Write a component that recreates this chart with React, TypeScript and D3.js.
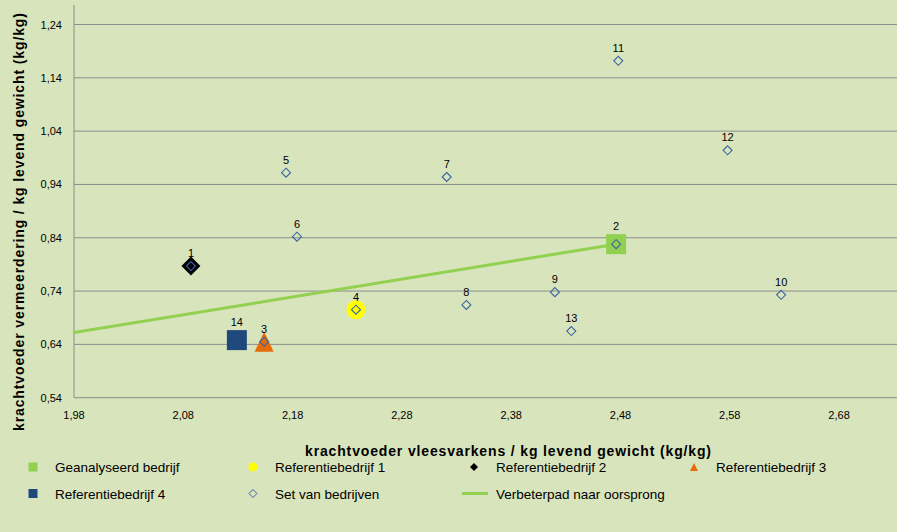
import React from "react";
import * as d3 from "d3";

// ---- data ----
const setIds = ["1", "2", "3", "4", "5", "6", "7", "8", "9", "10", "11", "12", "13", "14"];
const setX = [2.087, 2.476, 2.154, 2.238, 2.174, 2.184, 2.321, 2.339, 2.42, 2.627, 2.478, 2.578, 2.435, 2.129];
const setY = [0.787, 0.828, 0.645, 0.705, 0.962, 0.842, 0.954, 0.714, 0.738, 0.733, 1.172, 1.004, 0.665, 0.648];

const analysedIdx = 1; // Geanalyseerd bedrijf
const ref1Idx = 3; // Referentiebedrijf 1
const ref2Idx = 0; // Referentiebedrijf 2
const ref3Idx = 2; // Referentiebedrijf 3
const ref4Idx = 13; // Referentiebedrijf 4

const pathX = [0, 2.476];
const pathY = [0, 0.828];

const xTicks = [1.98, 2.08, 2.18, 2.28, 2.38, 2.48, 2.58, 2.68];
const yTicks = [0.54, 0.64, 0.74, 0.84, 0.94, 1.04, 1.14, 1.24];

const legendLabels = [
  "Geanalyseerd bedrijf",
  "Referentiebedrijf 1",
  "Referentiebedrijf 2",
  "Referentiebedrijf 3",
  "Referentiebedrijf 4",
  "Set van bedrijven",
  "Verbeterpad naar oorsprong",
];

const xTitle = "krachtvoeder vleesvarkens / kg levend gewicht (kg/kg)";
const yTitle = "krachtvoeder vermeerdering / kg levend gewicht (kg/kg)";

// ---- style ----
const W = 897;
const H = 532;
const BG = "#D8E4BC";
const GRID = "#8C8C8C";
const C_GREEN = "#92D050";
const C_YELLOW = "#FFFF00";
const C_BLACK = "#000000";
const C_ORANGE = "#E46C0A";
const C_BLUE = "#1F497D";
const C_DIAMOND = "#3B64A0";
const FONT = "'Liberation Sans', Arial, sans-serif";

const fmt = (v: number) => v.toFixed(2).replace(".", ",");

function diamondPath(w: number) {
  const h = w / 2;
  const p = d3.path();
  p.moveTo(0, -h);
  p.lineTo(h, 0);
  p.lineTo(0, h);
  p.lineTo(-h, 0);
  p.closePath();
  return p.toString();
}
function trianglePath(w: number, h: number) {
  const p = d3.path();
  p.moveTo(0, -h / 2);
  p.lineTo(w / 2, h / 2);
  p.lineTo(-w / 2, h / 2);
  p.closePath();
  return p.toString();
}

export default function App() {
  const left = 74;
  const right = 897;
  const top = 5;
  const bottom = 397.7;
  const x = d3.scaleLinear().domain([1.98, 2.733]).range([left, right]);
  const y = d3.scaleLinear().domain([0.54, 1.2766]).range([bottom, top]);

  const line = d3
    .line<number>()
    .x((_, i) => x(pathX[i]))
    .y((_, i) => y(pathY[i]));

  const px = (i: number) => x(setX[i]);
  const py = (i: number) => y(setY[i]);

  const legendRows = [467, 493.5];
  const legendCols = [33, 253, 474, 694];
  const textOff = 22;

  const legendItems = legendLabels.map((label, i) => ({
    label,
    cx: legendCols[i % 4],
    cy: legendRows[Math.floor(i / 4)],
    i,
  }));

  const legendMarker = (i: number, cx: number, cy: number) => {
    switch (i) {
      case 0:
        return <rect x={cx - 4.5} y={cy - 4.5} width={9} height={9} fill={C_GREEN} />;
      case 1:
        return <circle cx={cx} cy={cy} r={4.5} fill={C_YELLOW} />;
      case 2:
        return <path d={diamondPath(8)} transform={`translate(${cx},${cy})`} fill={C_BLACK} />;
      case 3:
        return <path d={trianglePath(8, 8)} transform={`translate(${cx},${cy})`} fill={C_ORANGE} />;
      case 4:
        return <rect x={cx - 4.5} y={cy - 4.5} width={9} height={9} fill={C_BLUE} />;
      case 5:
        return (
          <path d={diamondPath(8)} transform={`translate(${cx},${cy})`} fill="none" stroke={C_DIAMOND} strokeWidth={1} />
        );
      default:
        return <line x1={cx - 12} x2={cx + 14} y1={cy} y2={cy} stroke={C_GREEN} strokeWidth={3} />;
    }
  };

  const bigIdx = [analysedIdx, ref4Idx];

  return (
    <svg width={W} height={H} style={{ position: "absolute", left: 0, top: 0 }} fontFamily={FONT}>
      <defs>
        <clipPath id="plotClip">
          <rect x={left} y={top} width={right - left} height={bottom - top} />
        </clipPath>
      </defs>
      <rect x={0} y={0} width={W} height={H} fill={BG} />

      {/* gridlines */}
      {yTicks.map((t) => (
        <line key={t} x1={left} x2={right} y1={y(t)} y2={y(t)} stroke={GRID} strokeWidth={1} />
      ))}
      {/* y axis line */}
      <line x1={left} x2={left} y1={top} y2={bottom} stroke={GRID} strokeWidth={1} />

      {/* y tick labels */}
      {yTicks.map((t) => (
        <text key={t} x={62} y={y(t) + 4} textAnchor="end" fontSize={11} fill="#000">
          {fmt(t)}
        </text>
      ))}
      {/* x tick labels */}
      {xTicks.map((t) => (
        <text key={t} x={x(t)} y={419} textAnchor="middle" fontSize={11} fill="#000">
          {fmt(t)}
        </text>
      ))}

      {/* improvement path */}
      <path d={line(pathX) || ""} stroke={C_GREEN} strokeWidth={3} fill="none" clipPath="url(#plotClip)" />

      {/* reference markers */}
      <rect x={px(analysedIdx) - 10} y={py(analysedIdx) - 10} width={20} height={20} fill={C_GREEN} />
      <circle cx={px(ref1Idx)} cy={py(ref1Idx)} r={9.5} fill={C_YELLOW} />
      <path d={diamondPath(19)} transform={`translate(${px(ref2Idx)},${py(ref2Idx)})`} fill={C_BLACK} />
      <path d={trianglePath(19, 20)} transform={`translate(${px(ref3Idx)},${py(ref3Idx)})`} fill={C_ORANGE} />

      {/* set of farms */}
      {setIds.map((id, i) => (
        <path
          key={id}
          d={diamondPath(9)}
          transform={`translate(${px(i)},${py(i)})`}
          fill="none"
          stroke={C_DIAMOND}
          strokeWidth={1.1}
        />
      ))}

      <rect x={px(ref4Idx) - 10} y={py(ref4Idx) - 10} width={20} height={20} fill={C_BLUE} />

      {/* data labels */}
      {setIds.map((id, i) => (
        <text
          key={id}
          x={px(i)}
          y={py(i) - (bigIdx.includes(i) ? 18 : 13) + 4}
          textAnchor="middle"
          fontSize={11}
          fill="#000"
        >
          {id}
        </text>
      ))}

      {/* axis titles */}
      <text x={508} y={456} textAnchor="middle" fontSize={14} fontWeight="bold" textLength={406} fill="#000">
        {xTitle}
      </text>
      <text
        transform={`translate(24,222) rotate(-90)`}
        textAnchor="middle"
        fontSize={14}
        fontWeight="bold"
        textLength={418}
        fill="#000"
      >
        {yTitle}
      </text>

      {/* legend */}
      {legendItems.map((it) => (
        <g key={it.label}>
          {legendMarker(it.i, it.cx, it.cy)}
          <text x={it.cx + textOff} y={it.cy + 5} fontSize={13.5} fill="#000">
            {it.label}
          </text>
        </g>
      ))}
    </svg>
  );
}
